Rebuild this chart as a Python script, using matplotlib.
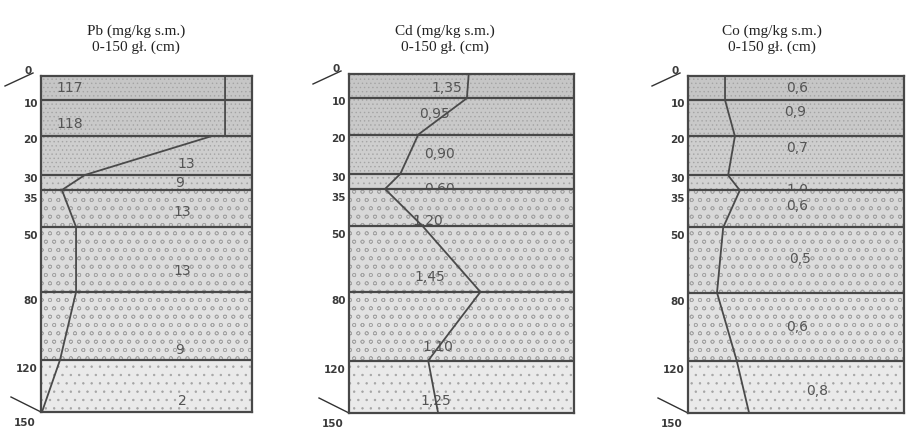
import numpy as np
import matplotlib.pyplot as plt
import matplotlib.transforms as mtransforms

# layer boundaries (cm) and drawn height of each boundary (schematic, not linear)
depths = [0, 10, 20, 30, 35, 50, 80, 120, 150]
drawn = [0, 24, 60, 99, 114, 151, 216, 284, 336]

# layer values
pb_values = [117, 118, 13, 9, 13, 13, 9, 2]
cd_values = [1.35, 0.95, 0.90, 0.60, 1.20, 1.45, 1.10, 1.25]
co_values = [0.6, 0.9, 0.7, 1.0, 0.6, 0.5, 0.6, 0.8]

# profile curves
pb_line_depth = [0, 20, 20, 30, 35, 50, 80, 120, 150]
pb_line = [113.4, 113.4, 105.4, 27.0, 12.9, 21.6, 21.6, 11.7, 0.6]
cd_line_depth = [0, 10, 20, 30, 35, 50, 80, 120, 150]
cd_line = [1.33, 1.31, 0.77, 0.57, 0.40, 0.82, 1.46, 0.88, 0.99]
co_line_depth = [0, 10, 20, 30, 35, 50, 80, 120, 150]
co_line = [0.60, 0.60, 0.76, 0.65, 0.84, 0.57, 0.47, 0.79, 0.99]

titles = ['Pb (mg/kg s.m.)\n0-150 gł. (cm)',
          'Cd (mg/kg s.m.)\n0-150 gł. (cm)',
          'Co (mg/kg s.m.)\n0-150 gł. (cm)']

# layout
face = ['#c6c6c6', '#c9c9c9', '#cecece', '#d3d3d3', '#d8d8d8', '#dcdcdc', '#e2e2e2', '#eaeaea']
hatch = ['....', '....', '....', '...', 'oo', 'oo', 'oo', '..']
panels = [
    dict(rect=[41/906, 1-412/429, 211/906, 336/429], xmax=130,
         vals=pb_values, fmt=lambda v: f'{v:d}', ld=pb_line_depth, lv=pb_line,
         lx=[0.137, 0.137, 0.687, 0.659, 0.668, 0.668, 0.659, 0.668],
         ly=[0.5, 0.67, 0.72, 0.55, 0.6, 0.68, 0.86, 0.79]),
    dict(rect=[349/906, 1-413/429, 225/906, 339/429], xmax=2.5,
         vals=cd_values, fmt=lambda v: f'{v:.2f}'.replace('.', ','), ld=cd_line_depth, lv=cd_line,
         lx=[0.436, 0.382, 0.404, 0.404, 0.351, 0.36, 0.396, 0.387],
         ly=[0.56, 0.44, 0.5, 1.02, 0.87, 0.77, 0.8, 0.78]),
    dict(rect=[688/906, 1-413/429, 216/906, 337/429], xmax=3.5,
         vals=co_values, fmt=lambda v: f'{v:.1f}'.replace('.', ','), ld=co_line_depth, lv=co_line,
         lx=[0.505, 0.495, 0.505, 0.505, 0.505, 0.519, 0.505, 0.60],
         ly=[0.5, 0.33, 0.31, 1.0, 0.43, 0.48, 0.51, 0.57]),
]
title_x = [136/906, 445/906, 772/906]

dark = '#484848'
plt.rcParams['hatch.linewidth'] = 0.5


def fwd(d):
    return np.interp(d, depths, drawn)


def inv(y):
    return np.interp(y, drawn, depths)


fig = plt.figure(figsize=(9.06, 4.29), dpi=100)

for k, p in enumerate(panels):
    ax = fig.add_axes(p['rect'])
    ax.set_yscale('function', functions=(fwd, inv))
    ax.set_ylim(150, 0)
    ax.set_xlim(0, p['xmax'])
    ax.set_xticks([])
    ax.set_yticks([])
    ax.yaxis.set_minor_locator(plt.NullLocator())
    for s in ax.spines.values():
        s.set_color(dark)
        s.set_linewidth(1.6)
        s.set_zorder(20)
    trans = mtransforms.blended_transform_factory(ax.transAxes, ax.transData)

    # layers, each one drawn over the text of the layer above it
    for i in range(len(depths) - 1):
        top, bot = depths[i], depths[i + 1]
        ax.axhspan(top, bot, facecolor=face[i], hatch=hatch[i],
                   edgecolor='#a4a4a4', linewidth=0, zorder=i + 1)
        ymid = inv(fwd(top) + p['ly'][i] * (fwd(bot) - fwd(top)))
        ax.text(p['lx'][i], ymid, p['fmt'](p['vals'][i]), transform=trans,
                ha='center', va='center', fontsize=10, color='#555555',
                family='DejaVu Sans', zorder=i + 1.5)
    for d in depths[1:-1]:
        ax.axhline(d, color=dark, lw=1.6, zorder=15)

    ax.plot(p['lv'], p['ld'], color='#4a4a4a', lw=1.3, zorder=16, clip_on=False)

    # depth labels
    for d in depths[1:-1]:
        off = -4 if d <= 30 else -9
        ax.annotate(str(d), xy=(0, d), xycoords=trans, xytext=(-3, off),
                    textcoords='offset pixels', ha='right', va='center',
                    fontsize=7.5, fontweight='bold', color='#3a3a3a')
    ax.annotate('0', xy=(0, 0), xycoords=trans, xytext=(-13, 5),
                textcoords='offset pixels', ha='center', va='center',
                fontsize=7.5, fontweight='bold', color='#3a3a3a')
    ax.annotate('150', xy=(0, 150), xycoords=trans, xytext=(-16, -11),
                textcoords='offset pixels', ha='center', va='center',
                fontsize=7.5, fontweight='bold', color='#3a3a3a')

    # slanted marks at top and bottom
    w = p['rect'][2] * 906
    h = p['rect'][3] * 429
    ax.plot([-36 / w, -8 / w], [1 - 10 / h, 1 + 3 / h], transform=ax.transAxes,
            color='#333333', lw=1.0, clip_on=False)
    ax.plot([-30 / w, 0], [15 / h, 0], transform=ax.transAxes,
            color='#333333', lw=1.0, clip_on=False)

    fig.text(title_x[k], 1 - 39/429, titles[k], ha='center', va='center',
             fontsize=11, family='Liberation Serif', color='#222222',
             linespacing=1.25)

fig.savefig('out.png', dpi=100)
